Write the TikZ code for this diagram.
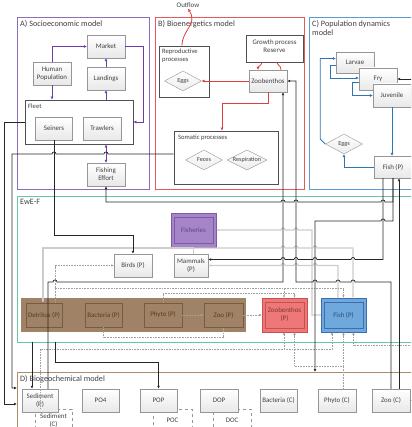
\documentclass[tikz,border=0pt]{standalone}
\usepackage{fontspec}
\setmainfont{Carlito}
\usepackage{tikz}
\usetikzlibrary{arrows.meta,shapes.geometric}

\definecolor{txtgray}{RGB}{64,64,64}
\definecolor{boxline}{RGB}{150,150,150}
\definecolor{frameline}{RGB}{80,80,80}
\definecolor{socio}{RGB}{140,110,185}
\definecolor{socioarr}{RGB}{112,60,170}
\definecolor{bioen}{RGB}{228,90,90}
\definecolor{bioenarr}{RGB}{226,60,60}
\definecolor{popdyn}{RGB}{91,155,213}
\definecolor{popdynarr}{RGB}{46,117,182}
\definecolor{ewe}{RGB}{102,200,160}
\definecolor{biogeo}{RGB}{170,140,110}
\definecolor{band}{RGB}{160,131,102}
\definecolor{bandline}{RGB}{118,92,68}
\definecolor{bandtext}{RGB}{80,60,42}
\definecolor{fishery}{RGB}{165,132,200}
\definecolor{fisheryline}{RGB}{125,90,165}
\definecolor{zoobfill}{RGB}{238,120,120}
\definecolor{zoobline}{RGB}{200,80,80}
\definecolor{fishfill}{RGB}{111,168,220}
\definecolor{fishline}{RGB}{60,110,170}
\definecolor{linkgray}{RGB}{205,205,205}
\definecolor{dotgray}{RGB}{160,160,160}

% hop over a vertical line: rightwards / leftwards
\newcommand{\hopR}[2]{-- (#1-2,#2) arc[start angle=180,end angle=360,radius=2]}
\newcommand{\hopL}[2]{-- (#1+2,#2) arc[start angle=0,end angle=-180,radius=2]}

\tikzset{
  every node/.style={font=\fontsize{6.9}{7.9}\selectfont, text=txtgray},
  box/.style={draw=boxline, top color=white, bottom color=gray!18, inner sep=0.5pt, align=center, minimum width=38, minimum height=23},
  dbox/.style={draw=boxline, dashed, fill=white, inner sep=0.5pt, align=center, minimum width=38, minimum height=23},
  holder/.style={draw=frameline, line width=0.7pt, fill=white, inner sep=0pt},
  model/.style={draw=#1, line width=0.9pt, inner sep=0pt},
  capt/.style={anchor=north west, inner sep=0pt, font=\fontsize{8.2}{9.6}\selectfont, align=left},
  subcapt/.style={anchor=north west, inner sep=0pt, font=\fontsize{6.6}{8}\selectfont, align=left},
  gem/.style={diamond, draw=boxline, top color=white, bottom color=gray!15, shape aspect=2, inner sep=0pt, minimum width=37, minimum height=20, font=\fontsize{6.2}{7}\selectfont},
  bandbox/.style={draw=bandline, line width=0.7pt, inner sep=0.5pt, minimum width=36, minimum height=24, text=bandtext},
  tintbox/.style n args={3}{fill=#1, draw=#2, text=#3, line width=0.5pt, inner sep=0.5pt, align=center, minimum width=45, minimum height=34,
    path picture={\draw[#2, line width=0.8pt] ([shift={(3pt,-4pt)}]path picture bounding box.north west) rectangle ([shift={(-3pt,4pt)}]path picture bounding box.south east);}},
  parr/.style={socioarr, line width=0.8pt, -{Latex[length=3pt,width=3pt]}},
  rarr/.style={bioenarr, line width=0.8pt, -{Latex[length=3pt,width=3pt]}},
  barr/.style={popdynarr, line width=0.8pt, -{Latex[length=3pt,width=3pt]}},
  karr/.style={black!85, line width=0.7pt, -{Latex[length=3pt,width=2.8pt]}},
  glink/.style={linkgray, line width=1.1pt},
  garr/.style={glink, -{Latex[length=2.5pt,width=2.5pt]}},
  darr/.style={dotgray, line width=0.6pt, dash pattern=on 0.8pt off 0.8pt, -{Latex[length=2.5pt,width=2.5pt]}},
}

\begin{document}
\begin{tikzpicture}[x=1pt,y=-1pt]
\useasboundingbox (0,0) rectangle (411,427);
\clip (0,0) rectangle (411,427);

% model frames
\node[model=socio, minimum width=132, minimum height=172] (Amod) at (83,103) {};
\node[model=bioen, minimum width=149, minimum height=172] (Bmod) at (229.5,103) {};
\node[model=popdyn, minimum width=120, minimum height=172] (Cmod) at (369,103) {};
\node[model=ewe, minimum width=413, minimum height=146] (Emod) at (223.5,269) {};
\node[model=biogeo, minimum width=413, minimum height=73] (Dmod) at (223.5,408.5) {};
\node[capt] (Atitle) at (20,20) {A) Socioeconomic model};
\node[capt] (Btitle) at (158,20) {B) Bioenergetics model};
\node[capt] (Ctitle) at (312,20) {C) Population dynamics\\model};
\node[capt] (Etitle) at (20,199) {EwE-F};
\node[capt] (Dtitle) at (20,375) {D) Biogeochemical model};

% A) socioeconomic
\node[box] (Market) at (106,46.5) {Market};
\node[box] (HumPop) at (52,73.5) {Human\\Population};
\node[box] (Landings) at (106,78.5) {Landings};
\node[holder, minimum width=108, minimum height=44] (Fleet) at (79,122) {};
\node[subcapt] (FleetLbl) at (28,104) {Fleet};
\node[box, minimum width=37] (Seiners) at (54,128.5) {Seiners};
\node[box] (Trawlers) at (102,128.5) {Trawlers};
\node[box] (Effort) at (106,174.5) {Fishing\\Effort};

% B) bioenergetics
\node[inner sep=1pt] (Outflow) at (188,5) {Outflow};
\node[holder, minimum width=50, minimum height=51] (Repro) at (184,71.5) {};
\node[subcapt] (ReproLbl) at (162,49) {Reproductive\\processes};
\node[gem] (EggsB) at (183,81) {Eggs};
\node[holder, minimum width=57, minimum height=27] (Growth) at (274.5,48.5) {};
\node[inner sep=0pt, align=center] (GrowthLbl) at (274.5,46) {Growth process\\Reserve};
\node[box, minimum height=22] (ZoobB) at (268,81) {Zoobenthos};
\node[holder, minimum width=104, minimum height=53] (Somatic) at (226,157.5) {};
\node[subcapt] (SomaticLbl) at (178,135) {Somatic processes};
\node[gem] (Feces) at (204,160) {Feces};
\node[gem, minimum width=40] (Resp) at (247,160) {Respiration};

% C) population dynamics
\node[box, minimum height=21] (Larvae) at (355,62.5) {Larvae};
\node[box, minimum height=22] (Fry) at (378,79) {Fry};
\node[box] (Juvenile) at (392,95.5) {Juvenile};
\node[gem] (EggsC) at (344,144) {Eggs};
\node[box, minimum height=22] (FishC) at (393,167) {Fish (P)};

% EwE-F
\node[tintbox={fishery}{fisheryline}{fisheryline!75!black}] (Fisheries) at (193.5,230) {Fisheries};
\node[box] (Birds) at (133,265.5) {Birds (P)};
\node[box, minimum width=34] (Mammals) at (191,265.5) {Mammals\\(P)};
\node[fill=band, inner sep=0pt, minimum width=225, minimum height=34] (Band) at (133.5,315) {};
\node[bandbox] (Detritus) at (44,315) {Detritus (P)};
\node[bandbox, minimum width=37] (Bacteria) at (103.5,315) {Bacteria (P)};
\node[bandbox, minimum width=38] (Phyto) at (163,315) {Phyto (P)};
\node[bandbox, minimum width=39] (Zoo) at (223.5,315) {Zoo (P)};
\node[tintbox={zoobfill}{zoobline}{zoobline!65!black}] (ZoobP) at (284.5,315) {Zoobenthos\\(P)};
\node[tintbox={fishfill}{fishline}{fishline!70!black}] (FishP) at (343.5,315) {Fish (P)};

% D) biogeochemical
\node[dbox, minimum width=37] (SedC) at (53.5,420.5) {Sediment\\(C)};
\node[box, minimum width=36] (SedP) at (40,400.5) {Sediment\\(P)};
\node[box, minimum width=37] (PO4) at (100.5,400.5) {PO4};
\node[dbox, minimum width=39] (POC) at (172.5,420.5) {POC};
\node[box, minimum width=37] (POP) at (158.5,400.5) {POP};
\node[dbox] (DOC) at (232,420.5) {DOC};
\node[box] (DOP) at (219,400.5) {DOP};
\node[box, minimum width=37] (BactC) at (278.5,400.5) {Bacteria (C)};
\node[box] (PhytoC) at (337,400.5) {Phyto (C)};
\node[box] (ZooC) at (391,400.5) {Zoo (C)};

% free ends
\coordinate (dInA) at (17,388);
\coordinate (dInB) at (17,404);
\coordinate (dInC) at (315,372);
\coordinate (eOutA) at (32,342);
\coordinate (eOutB) at (55,342);
\coordinate (offFry) at (415,79);
\coordinate (offZoo) at (415,400.5);
\coordinate (offFish) at (415,345);
\coordinate (fHub) at (193.5,248);

% gray links (EwE-F)
\draw[glink] (Fisheries.south) -- (Fisheries.south |- Mammals.north);
\draw[garr] (fHub) -| ([xshift=-1pt]Detritus.north);
\draw[garr] (fHub) \hopR{283}{248} \hopR{296}{248} \hopR{315}{248} -- (353,248) -- ([xshift=9.5pt]FishP.north);
\draw[garr] (FishP.west) -- (312,315) -- (312,230) \hopL{296}{230} \hopL{283}{230} -- (Fisheries.east);
\draw[garr] ([xshift=-5.5pt]FishP.north) -- (338,265.5) \hopL{315}{265.5} \hopL{296}{265.5} \hopL{283}{265.5} -- (Mammals.east);

% dotted flows
\draw[darr] ([xshift=11pt]Detritus.north) |- (Birds.west);
\draw[darr] ([xshift=11pt]Detritus.north) -- (55,288) -| ([xshift=-0.5pt]ZoobP.north);
\draw[darr] ([xshift=11pt]Detritus.north) -- (55,288) -| (FishP.north);
\draw[darr] (Phyto.north) -- (163,293) -| ([xshift=10pt]ZoobP.north);
\draw[darr] (Phyto.east) -- (Zoo.west);
\draw[darr] (Zoo.east) -- (ZoobP.west);
\draw[darr] (Bacteria.south) -- (103.5,337) -| (Zoo.south);
\draw[darr] ([xshift=-13.5pt]SedC.north) -- ++(0,-60) -| ([xshift=-11.5pt]FishP.south);
\draw[darr] ([xshift=-13.5pt]SedC.north) -- ++(0,-60) -| ([xshift=-0.5pt]ZoobP.south);
\draw[darr] ([xshift=6pt]PhytoC.north) -- ++(0,-23) -| ([xshift=10pt]ZoobP.south);
\draw[darr] ([xshift=6pt]PhytoC.north) -- ++(0,-23) -| (FishP.south);
\draw[darr] (offFish) -| ([xshift=10pt]FishP.south);

% A) links
\draw[parr] (HumPop.north) |- (Market.west);
\draw[parr] (Landings.north) -- (Market.south);
\draw[parr] (Fleet.north -| Landings.south) -- (Landings.south);
\draw[parr] (HumPop.south) -- (HumPop.south |- Fleet.north);
\draw[parr] (Market.east) -- ++(18,0) |- (Fleet.east);
\draw[parr, {Latex[length=3pt,width=3pt]}-{Latex[length=3pt,width=3pt]}] (Effort.north) -- (Effort.north |- Fleet.south);

% B) links
\draw[rarr] (ZoobB.west) -- (EggsB.east);
\draw[rarr] (ZoobB.south) -- ++(0,11) -| ([xshift=-4pt]Somatic.north);
\draw[rarr] ([xshift=-12.5pt]Growth.south) .. controls +(-1,4) and +(0,-4) .. ([xshift=-10pt]ZoobB.north);
\draw[bioenarr, line width=0.8pt] ([xshift=13pt]ZoobB.north) .. controls +(0,-5) and +(1,4) .. ([xshift=2pt]Growth.south);
\draw[rarr] ([xshift=-2pt]Repro.north) .. controls +(0,-16) and +(10,16) .. (Outflow.south);

% C) links
\draw[barr] (EggsC.west) -- ++(-5,-5) |- ([yshift=4pt]Larvae.west);
\draw[barr] ([yshift=-3pt]Larvae.west) -- ++(-5,0) |- ([yshift=1pt]Fry.west);
\draw[barr] ([yshift=-3pt]Fry.west) -- ++(-6,0) |- (Juvenile.west);
\draw[barr] (Juvenile.south) -- (Juvenile.south |- FishC.north);
\draw[barr] (FishC.west) -| (EggsC.south);

% coupling links
\draw[karr] (Fleet.west) -- ++(-20,0) |- (dInB);
\draw[karr] ([yshift=3.5pt]Somatic.west) \hopL{106}{154} \hopL{54}{154} -- (12,154) |- (dInA);
\draw[karr] (Seiners.south) -- ++(0,95) -| (Birds.north);
\draw[karr] (FishC.south) -- (393,202) \hopL{383}{202} \hopL{296}{202} \hopL{283}{202} -- (106,202) -- (Effort.south);
\draw[karr] (FishC.south) -- (393,221) \hopL{383}{221} -- (315,221) -- (dInC);
\draw[karr] ([xshift=-10pt]FishC.south) -- (383,259.5) \hopL{353}{259.5} \hopL{315}{259.5} \hopL{296}{259.5} \hopL{283}{259.5} -- ([yshift=6pt]Mammals.east);
\draw[karr] ([xshift=8pt]SedP.north) -- (48,282) \hopR{55}{282} -- (283,282) -- ([xshift=15pt]ZoobB.south);
\draw[karr] (ZooC.north) -- (391,282) \hopL{353}{282} \hopL{338}{282} \hopL{315}{282} -- (296,282) |- (ZoobB.east);
\draw[karr] ([xshift=8pt]ZooC.north) -- ([xshift=6pt]FishC.south);
\draw[karr] (offZoo) -- (ZooC.east);
\draw[karr] (offFry) -- (Fry.east);
\draw[karr] (eOutA) -- (eOutA |- SedP.north);
\draw[karr] (eOutB) -- ++(0,20) -| (POP.north);
\end{tikzpicture}
\end{document}
